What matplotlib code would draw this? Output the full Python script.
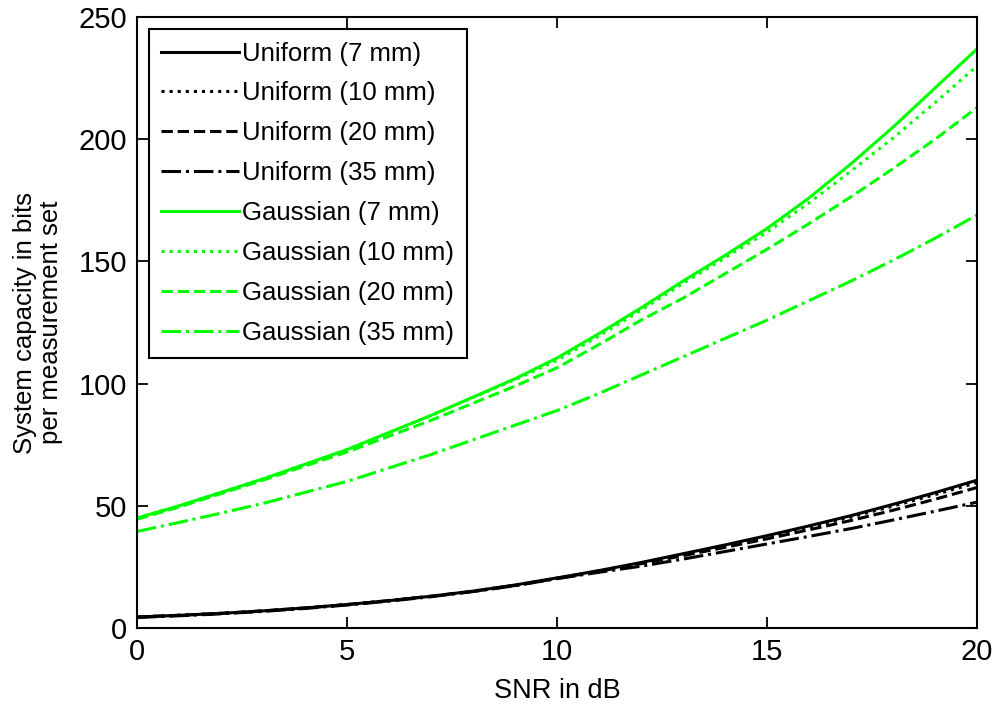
import matplotlib
matplotlib.use("Agg")
import matplotlib.pyplot as plt

plt.rcParams.update({"font.family": ["Liberation Sans", "DejaVu Sans"], "font.size": 15})

snr_db = [0, 1, 2, 3, 4, 5, 6, 7, 8, 9, 10, 11, 12, 13, 14, 15, 16, 17, 18, 19, 20]

# Uniform illumination, pixel sizes 7/10/20/35 mm
uni_7 = [4.5, 5.2, 6.0, 7.0, 8.2, 9.6, 11.2, 13.0, 15.1, 17.6, 20.5, 23.5, 26.8, 30.4, 34.0, 37.8, 41.8, 46.0, 50.6, 55.4, 60.5]
uni_10 = [4.5, 5.2, 6.0, 7.0, 8.2, 9.6, 11.2, 13.0, 15.1, 17.5, 20.4, 23.4, 26.6, 30.1, 33.7, 37.4, 41.3, 45.4, 49.9, 54.6, 59.5]
uni_20 = [4.5, 5.2, 6.0, 7.0, 8.2, 9.6, 11.2, 13.0, 15.0, 17.4, 20.3, 23.2, 26.3, 29.6, 33.0, 36.5, 40.2, 44.0, 48.2, 52.7, 57.5]
uni_35 = [4.3, 5.0, 5.8, 6.8, 8.0, 9.4, 11.0, 12.8, 14.9, 17.3, 20.2, 22.8, 25.3, 28.2, 31.3, 34.4, 37.5, 40.7, 44.2, 47.8, 51.5]

# Gaussian illumination
gau_7 = [45.0, 50.0, 55.5, 61.0, 67.0, 73.0, 80.0, 87.0, 94.5, 102.0, 110.5, 120.5, 131.0, 142.0, 152.5, 163.5, 176.0, 190.0, 205.0, 221.0, 237.0]
gau_10 = [45.0, 50.0, 55.5, 61.0, 67.0, 73.0, 80.0, 87.0, 94.3, 101.6, 109.5, 119.5, 130.0, 141.0, 151.5, 162.0, 174.0, 187.0, 200.5, 215.0, 230.0]
gau_20 = [44.5, 49.5, 55.0, 60.5, 66.3, 72.0, 78.5, 85.0, 92.0, 99.0, 106.5, 116.0, 126.0, 135.0, 145.0, 155.0, 165.5, 176.5, 188.0, 200.0, 213.0]
gau_35 = [39.5, 43.2, 47.0, 51.0, 55.5, 60.0, 65.5, 71.0, 77.0, 83.0, 89.0, 96.0, 103.5, 111.0, 118.5, 126.0, 134.0, 142.0, 150.5, 159.5, 169.0]

labels = ["Uniform (7 mm)", "Uniform (10 mm)", "Uniform (20 mm)", "Uniform (35 mm)",
          "Gaussian (7 mm)", "Gaussian (10 mm)", "Gaussian (20 mm)", "Gaussian (35 mm)"]
series = [uni_7, uni_10, uni_20, uni_35, gau_7, gau_10, gau_20, gau_35]
styles = ["-", ":", "--", "-."] * 2
colors = ["black"] * 4 + ["#00ff00"] * 4

fig = plt.figure(figsize=(9.95, 7.13), dpi=100)
ax = fig.add_axes([0.1377, 0.1192, 0.8443, 0.8568])

for ys, ls, c, lab in zip(series, styles, colors, labels):
    ax.plot(snr_db, ys, linestyle=ls, color=c, linewidth=2.2, label=lab)

ax.set_xlim(0, 20)
ax.set_ylim(0, 250)
ax.set_xticks([0, 5, 10, 15, 20])
ax.set_yticks([0, 50, 100, 150, 200, 250])
ax.tick_params(direction="in", length=8, width=1.3, top=True, right=True, labelsize=21, pad=7)
for sp in ax.spines.values():
    sp.set_linewidth(1.5)

ax.set_xlabel("SNR in dB", fontsize=19.5, labelpad=9)
ax.set_ylabel("System capacity in bits\nper measurement set", fontsize=18.5, labelpad=11,
              linespacing=1.1)

leg = ax.legend(loc="upper left", fontsize=18.5, handlelength=3.0, handletextpad=0.15,
                labelspacing=0.62, borderpad=0.5, fancybox=False, framealpha=1,
                borderaxespad=0.45)
leg.get_frame().set_edgecolor("black")
leg.get_frame().set_linewidth(1.5)

fig.savefig("out.png", dpi=100)
